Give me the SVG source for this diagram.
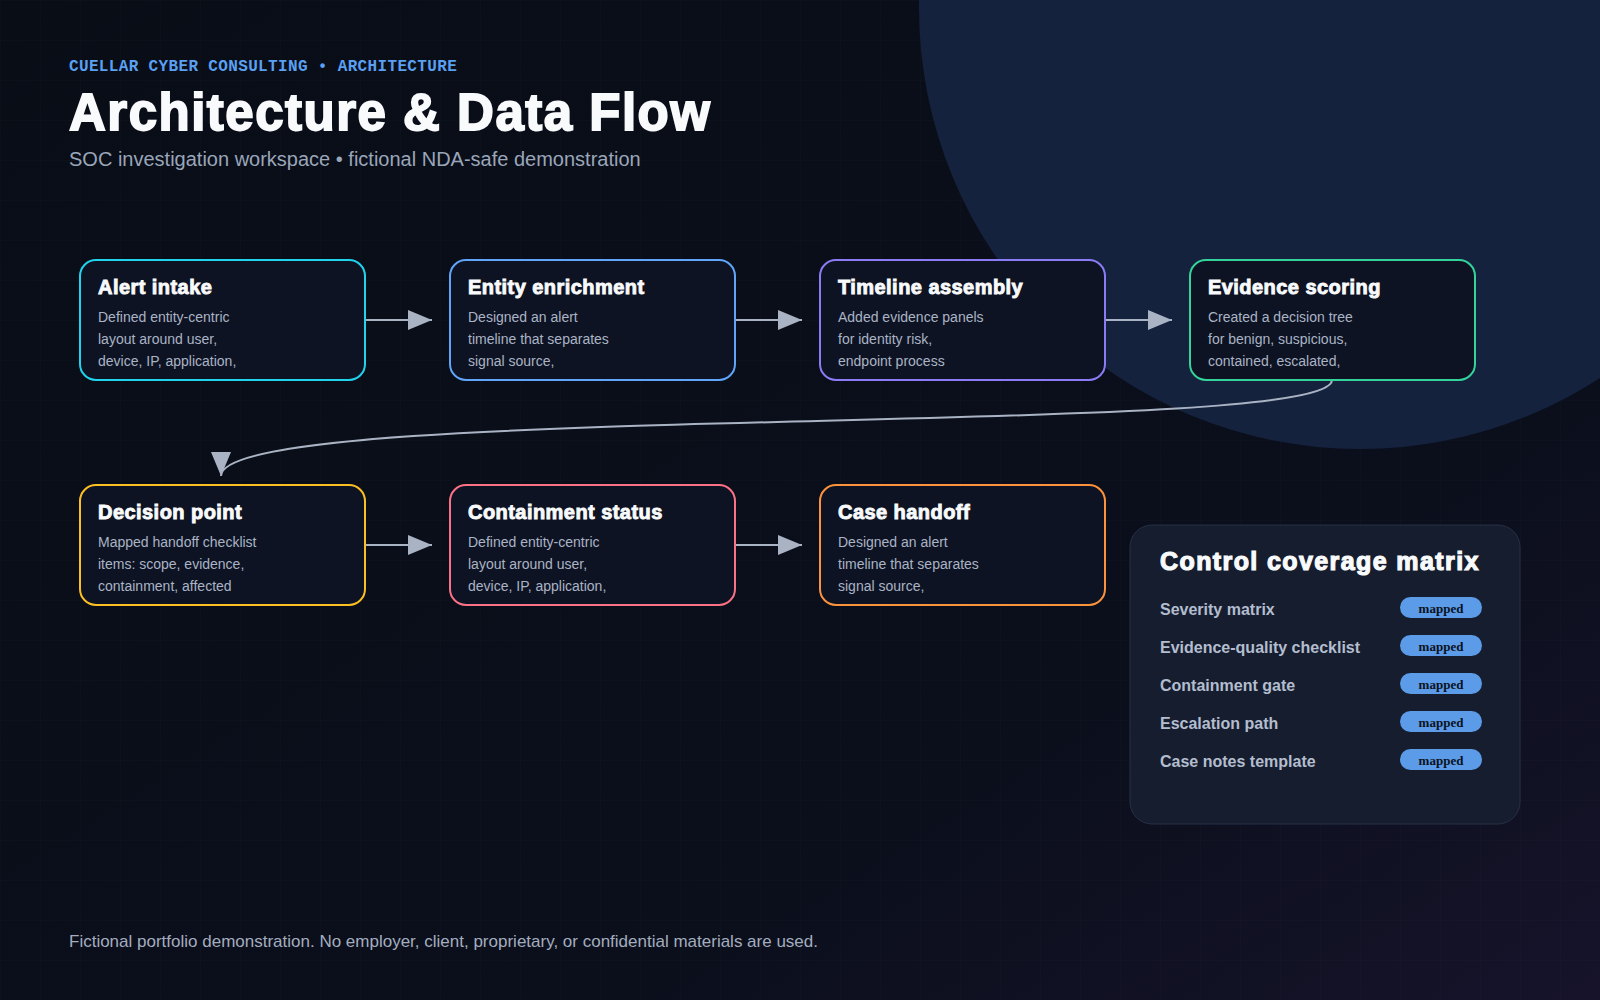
<svg xmlns="http://www.w3.org/2000/svg" width="1600" height="1000" viewBox="0 0 1600 1000">
  <defs>
    <linearGradient id="bg" x1="0" y1="0" x2="1" y2="1">
      <stop offset="0" stop-color="#090d16"/>
      <stop offset="0.7" stop-color="#0b0f1c"/>
      <stop offset="1" stop-color="#16132a"/>
    </linearGradient>
    <pattern id="grid" width="40" height="40" patternUnits="userSpaceOnUse">
      <path d="M40 0 L0 0 L0 40" fill="none" stroke="#ffffff" stroke-opacity="0.022" stroke-width="1"/>
    </pattern>
    <marker id="arrow" viewBox="0 0 24 20" markerWidth="24" markerHeight="20" refX="24" refY="10" markerUnits="userSpaceOnUse" orient="auto">
      <path d="M0 0 L24 10 L0 20 Z" fill="#a9b3c4"/>
    </marker>
    <style>
      .node rect { fill: #0d1322; stroke-width: 2; }
      .ttl { font-family: "Liberation Sans", Arial, sans-serif; font-weight: 800; font-size: 20px; letter-spacing: 0.45px; fill: #f8fafc; stroke: #f8fafc; stroke-width: 0.9; }
      .dsc { font-family: "Liberation Sans", Arial, sans-serif; font-size: 14px; fill: #aab4c6; }
      .conn { fill: none; stroke: #a9b3c4; stroke-width: 2; marker-end: url(#arrow); }
      .lbl { font-family: "Liberation Sans", Arial, sans-serif; font-weight: 700; font-size: 16px; fill: #b3bdcf; }
      .pill { fill: #5b9be8; }
      .pilltxt { font-family: "Liberation Serif", "Times New Roman", serif; font-weight: 700; font-size: 13px; fill: #0b1220; text-anchor: middle; }
    </style>
  </defs>

  <rect x="0" y="0" width="1600" height="1000" fill="url(#bg)"/>
  <rect x="0" y="0" width="1600" height="1000" fill="url(#grid)"/>
  <circle cx="1360" cy="8" r="441" fill="#15223d"/>

  <!-- Header -->
  <text x="69" y="71" font-family="'Liberation Mono', 'DejaVu Sans Mono', monospace" font-weight="700" font-size="16" letter-spacing="0.35" fill="#5aa0f2">CUELLAR CYBER CONSULTING • ARCHITECTURE</text>
  <text x="69" y="130" font-family="'Liberation Sans', Arial, sans-serif" font-weight="800" font-size="51" letter-spacing="1.5" fill="#f8fafc" stroke="#f8fafc" stroke-width="1.8">Architecture &amp; Data Flow</text>
  <text x="69" y="166" font-family="'Liberation Sans', Arial, sans-serif" font-size="20" fill="#9aa6ba">SOC investigation workspace • fictional NDA-safe demonstration</text>

  <!-- Connectors -->
  <g id="connectors">
    <line class="conn" x1="365" y1="320" x2="432" y2="320"/>
    <line class="conn" x1="735" y1="320" x2="802" y2="320"/>
    <line class="conn" x1="1105" y1="320" x2="1172" y2="320"/>
    <path class="conn" d="M1332 380 C1332 440, 221 400, 221 476"/>
    <line class="conn" x1="365" y1="545" x2="432" y2="545"/>
    <line class="conn" x1="735" y1="545" x2="802" y2="545"/>
  </g>

  <!-- Nodes -->
  <g id="node-alert-intake" class="node">
    <rect x="80" y="260" width="285" height="120" rx="16" stroke="#22d3ee"/>
    <text class="ttl" x="98" y="294">Alert intake</text>
    <text class="dsc" x="98" y="322">Defined entity-centric</text>
    <text class="dsc" x="98" y="344">layout around user,</text>
    <text class="dsc" x="98" y="366">device, IP, application,</text>
  </g>
  <g id="node-entity-enrichment" class="node">
    <rect x="450" y="260" width="285" height="120" rx="16" stroke="#60a5fa"/>
    <text class="ttl" x="468" y="294">Entity enrichment</text>
    <text class="dsc" x="468" y="322">Designed an alert</text>
    <text class="dsc" x="468" y="344">timeline that separates</text>
    <text class="dsc" x="468" y="366">signal source,</text>
  </g>
  <g id="node-timeline-assembly" class="node">
    <rect x="820" y="260" width="285" height="120" rx="16" stroke="#8b7cf6"/>
    <text class="ttl" x="838" y="294">Timeline assembly</text>
    <text class="dsc" x="838" y="322">Added evidence panels</text>
    <text class="dsc" x="838" y="344">for identity risk,</text>
    <text class="dsc" x="838" y="366">endpoint process</text>
  </g>
  <g id="node-evidence-scoring" class="node">
    <rect x="1190" y="260" width="285" height="120" rx="16" stroke="#34d399"/>
    <text class="ttl" x="1208" y="294">Evidence scoring</text>
    <text class="dsc" x="1208" y="322">Created a decision tree</text>
    <text class="dsc" x="1208" y="344">for benign, suspicious,</text>
    <text class="dsc" x="1208" y="366">contained, escalated,</text>
  </g>
  <g id="node-decision-point" class="node">
    <rect x="80" y="485" width="285" height="120" rx="16" stroke="#fbbf24"/>
    <text class="ttl" x="98" y="519">Decision point</text>
    <text class="dsc" x="98" y="547">Mapped handoff checklist</text>
    <text class="dsc" x="98" y="569">items: scope, evidence,</text>
    <text class="dsc" x="98" y="591">containment, affected</text>
  </g>
  <g id="node-containment-status" class="node">
    <rect x="450" y="485" width="285" height="120" rx="16" stroke="#fb7185"/>
    <text class="ttl" x="468" y="519">Containment status</text>
    <text class="dsc" x="468" y="547">Defined entity-centric</text>
    <text class="dsc" x="468" y="569">layout around user,</text>
    <text class="dsc" x="468" y="591">device, IP, application,</text>
  </g>
  <g id="node-case-handoff" class="node">
    <rect x="820" y="485" width="285" height="120" rx="16" stroke="#fb923c"/>
    <text class="ttl" x="838" y="519">Case handoff</text>
    <text class="dsc" x="838" y="547">Designed an alert</text>
    <text class="dsc" x="838" y="569">timeline that separates</text>
    <text class="dsc" x="838" y="591">signal source,</text>
  </g>

  <!-- Control coverage matrix panel -->
  <g id="panel-control-coverage">
    <rect x="1130" y="525" width="390" height="299" rx="22" fill="#161d2e" stroke="#263046" stroke-width="1"/>
    <text x="1160" y="570" font-family="'Liberation Sans', Arial, sans-serif" font-weight="800" font-size="25" letter-spacing="1.4" fill="#f8fafc" stroke="#f8fafc" stroke-width="1.2">Control coverage matrix</text>
    <text class="lbl" x="1160" y="615">Severity matrix</text>
    <rect class="pill" x="1400" y="597" width="82" height="21" rx="10.5"/>
    <text class="pilltxt" x="1441" y="613">mapped</text>
    <text class="lbl" x="1160" y="653">Evidence-quality checklist</text>
    <rect class="pill" x="1400" y="635" width="82" height="21" rx="10.5"/>
    <text class="pilltxt" x="1441" y="651">mapped</text>
    <text class="lbl" x="1160" y="691">Containment gate</text>
    <rect class="pill" x="1400" y="673" width="82" height="21" rx="10.5"/>
    <text class="pilltxt" x="1441" y="689">mapped</text>
    <text class="lbl" x="1160" y="729">Escalation path</text>
    <rect class="pill" x="1400" y="711" width="82" height="21" rx="10.5"/>
    <text class="pilltxt" x="1441" y="727">mapped</text>
    <text class="lbl" x="1160" y="767">Case notes template</text>
    <rect class="pill" x="1400" y="749" width="82" height="21" rx="10.5"/>
    <text class="pilltxt" x="1441" y="765">mapped</text>
  </g>

  <text x="69" y="947" font-family="'Liberation Sans', Arial, sans-serif" font-size="17" fill="#a3adbf">Fictional portfolio demonstration. No employer, client, proprietary, or confidential materials are used.</text>
</svg>
